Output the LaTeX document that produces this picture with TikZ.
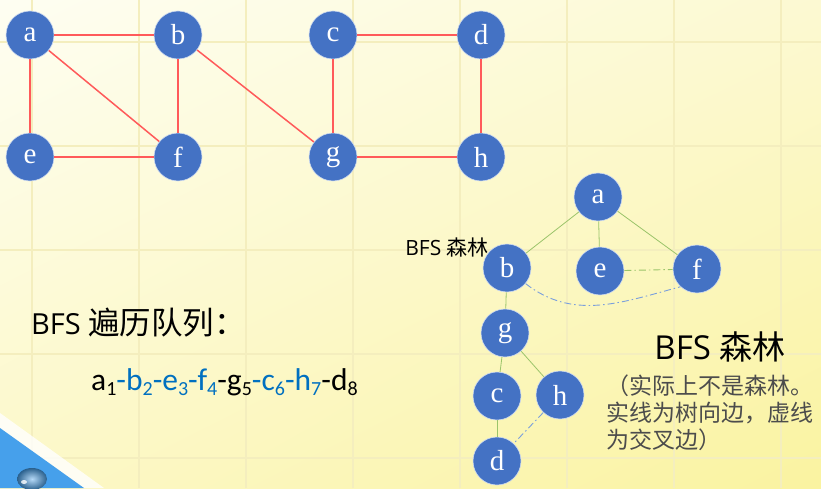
\documentclass[tikz,border=0pt]{standalone}
\usepackage{fontspec}
\newfontfamily\calib{Carlito}
\newfontfamily\ouvert{Open Sans}
\newfontfamily\lettre{Liberation Serif}
\newfontfamily\cjk{Noto Sans CJK SC}
\usepackage{xcolor}
\usepackage{tikz}
\usetikzlibrary{positioning,calc,shadings}
\definecolor{bleu}{HTML}{4472C4}
\definecolor{bleuclair}{HTML}{7A9FDC}
\definecolor{bleuseq}{HTML}{0070C0}
\definecolor{rouge}{HTML}{FF5A5A}
\definecolor{vert}{HTML}{9BC46A}
\definecolor{grille}{RGB}{244,238,190}
\definecolor{fondHG}{RGB}{254,254,242}
\definecolor{fondHD}{RGB}{252,249,210}
\definecolor{fondBG}{RGB}{252,248,200}
\definecolor{fondBD}{RGB}{250,243,160}
\definecolor{coin}{RGB}{70,160,235}
\newcommand{\ind}[1]{\raisebox{-5.5pt}{\fontsize{20}{20}\selectfont #1}}
\tikzset{
	sommet/.style={circle,fill=bleu,draw=white!75!bleu,line width=0.6pt,minimum size=48pt,inner sep=0pt,text=white,font=\lettre\fontsize{29}{29}\selectfont},
	arete/.style={draw=rouge,line width=1.5pt},
	arbre/.style={draw=vert,line width=0.8pt},
	croise/.style={line width=0.9pt,dash pattern=on 7pt off 3pt on 1.5pt off 3pt}
}

\begin{document}
\begin{tikzpicture}[x=1pt,y=1pt]
				\def\largeur{821}
				\def\hauteur{488}
				
				%Fond
				\shade[upper left=fondHG,upper right=fondHD,lower left=fondBG,lower right=fondBD]
				(0,0) rectangle (\largeur,\hauteur);
				\useasboundingbox (0,0) rectangle (\largeur,\hauteur);
				\foreach \x in {32,139,...,781}{
					\draw[grille,line width=1.2pt] (\x,0) -- (\x,\hauteur);
				}
				\foreach \y in {30,134,...,446}{
					\draw[grille,line width=1.2pt] (0,\y) -- (\largeur,\y);
				}
				
				%Coin bas gauche
				\fill[white,opacity=0.8] (0,75) -- (0,58) -- (82,0) -- (104,0) -- cycle;
				\fill[coin] (0,60) -- (0,0) -- (84,0) -- cycle;
				\shade[inner color=coin!40!white,outer color=coin!60!black] (32,9) ellipse (15 and 11);
				\fill[white,opacity=0.8] (24,6) ellipse (3 and 2);
				
				%Graphe
				\foreach \n/\x/\y in {a/30/453,b/178/453,c/333/453,d/481/453,e/30/331,f/178/331,g/333/331,h/481/331}{
					\node[sommet] (\n) at (\x,\y) {\n};
				}
				\foreach \u/\v in {a/b,a/e,a/f,b/f,e/f,b/g,c/g,c/d,d/h,g/h}{
					\draw[arete] (\u) -- (\v);
				}
				
				%Foret BFS
				\foreach \n/\x/\y in {a/598/291,b/507/220,e/600/217,f/697/219,g/505/155,c/497/92,h/560/93,d/497/27}{
					\node[sommet] (t\n) at (\x,\y) {\n};
				}
				\foreach \u/\v in {a/b,a/e,a/f,b/g,g/c,g/h,c/d}{
					\draw[arbre] (t\u) -- (t\v);
				}
				\draw[croise,draw=vert] (te) -- (tf);
				\draw[croise,draw=bleuclair] (tb.-40) to[out=-38,in=195] (tf.-133);
				\draw[croise,draw=bleuclair] (th) -- (td);
				
				%Textes
				\node[anchor=east,inner sep=0pt,font=\fontsize{21}{21}\selectfont] (petit) at (489,240) {\ouvert BFS \cjk 森林};
				\node[anchor=west,inner sep=0pt,font=\fontsize{29}{29}\selectfont] (titre) at (31,165) {\ouvert BFS {\cjk\fontsize{31.5}{31.5}\selectfont 遍历队列：}};
				\node[anchor=base west,inner sep=0pt,font=\calib\fontsize{31.5}{31.5}\selectfont] (suite) at (91,98)
				{a\ind{1}\textcolor{bleuseq}{-b\ind{2}-e\ind{3}-f\ind{4}}-g\ind{5}\textcolor{bleuseq}{-c\ind{6}-h\ind{7}}-d\ind{8}};
				\node[inner sep=0pt,font=\fontsize{33}{33}\selectfont] (grand) at (720,141) {\ouvert BFS \cjk 森林};
				\node[below=12pt of grand.south,anchor=north,xshift=-10pt,inner sep=0pt,align=left,text=black!70,font=\cjk\fontsize{23}{27}\selectfont] (note)
				{（实际上不是森林。\\实线为树向边，虚线\\为交叉边）};
				
			\end{tikzpicture}
\end{document}
